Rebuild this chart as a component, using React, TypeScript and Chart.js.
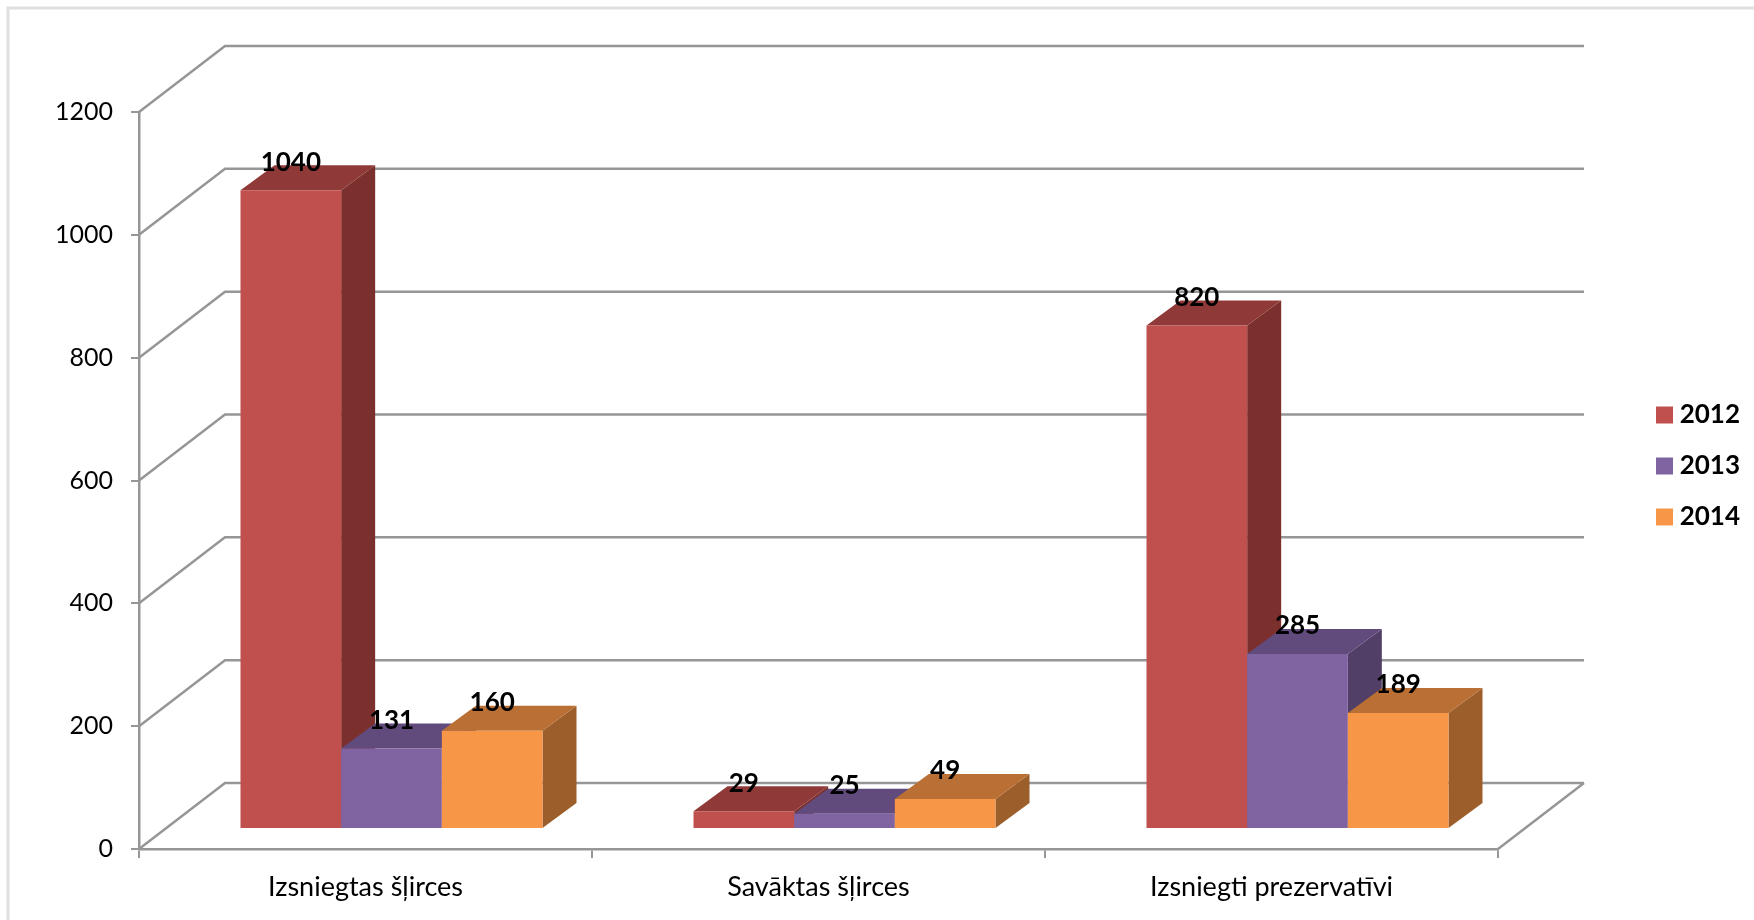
import React, { useEffect, useRef } from "react";
import { Chart, registerables } from "chart.js";

Chart.register(...registerables);

const categories = ["Izsniegtas šļirces", "Savāktas šļirces", "Izsniegti prezervatīvi"];
const values2012 = [1040, 29, 820];
const values2013 = [131, 25, 285];
const values2014 = [160, 49, 189];
const yearLabels = ["2012", "2013", "2014"];
const frontColors = ["#C0504D", "#8064A2", "#F79646"];
const topColors = ["#8F3A38", "#614A7C", "#BA7034"];
const sideColors = ["#7C302E", "#513F67", "#9C5E2A"];
const FONT = "Lato, Carlito, sans-serif";
const AXIS = "#969696";

// Perspective offsets
const WALL_DX = 86;
const WALL_DY = -66;
const BAR_DX = 34;
const BAR_DY = -25;
const BAR_SHIFT_X = 26;
const BAR_SHIFT_Y = -20;

const poly = (ctx: CanvasRenderingContext2D, pts: number[][], fill: string) => {
  ctx.beginPath();
  pts.forEach(([x, y], i) => (i ? ctx.lineTo(x, y) : ctx.moveTo(x, y)));
  ctx.closePath();
  ctx.fillStyle = fill;
  ctx.fill();
};

const chart3d = {
  id: "chart3d",
  afterLayout(chart: any) {
    const lg = chart.legend;
    const h = lg.height;
    lg.left = 1631;
    lg.right = 1740;
    lg.width = lg.right - lg.left;
    lg.top = 377;
    lg.bottom = lg.top + h;
    lg.adjustHitBoxes();
  },
  beforeDraw(chart: any) {
    const ctx = chart.ctx;
    ctx.save();
    ctx.strokeStyle = "#E0E0E0";
    ctx.lineWidth = 3;
    ctx.beginPath();
    ctx.moveTo(8, 920);
    ctx.lineTo(8, 8);
    ctx.lineTo(1754, 8);
    ctx.stroke();
    ctx.restore();
  },
  beforeDatasetsDraw(chart: any) {
    const { ctx, chartArea, scales } = chart;
    const { left, right, bottom } = chartArea;
    ctx.save();
    ctx.strokeStyle = AXIS;
    ctx.lineWidth = 2.5;
    ctx.beginPath();
    scales.y.ticks.forEach((t: any) => {
      const y = scales.y.getPixelForValue(t.value);
      ctx.moveTo(left, y);
      ctx.lineTo(left + WALL_DX, y + WALL_DY);
      ctx.lineTo(right + WALL_DX, y + WALL_DY);
    });
    ctx.moveTo(right + WALL_DX, bottom + WALL_DY);
    ctx.lineTo(right, bottom);
    ctx.stroke();
    ctx.restore();

    // Painter's order: left bar first, so each bar overlaps the side of the previous
    const metas = chart.getSortedVisibleDatasetMetas().slice().sort((a: any, b: any) => a.index - b.index);
    ctx.save();
    ctx.translate(BAR_SHIFT_X, BAR_SHIFT_Y);
    metas.forEach((meta: any) => {
      meta.data.forEach((bar: any) => {
        const p = bar.getProps(["x", "y", "base", "width"], true);
        const x0 = p.x - p.width / 2;
        const x1 = p.x + p.width / 2;
        poly(ctx, [[x1, p.y], [x1 + BAR_DX, p.y + BAR_DY], [x1 + BAR_DX, p.base + BAR_DY], [x1, p.base]], sideColors[meta.index]);
        poly(ctx, [[x0, p.y], [x0 + BAR_DX, p.y + BAR_DY], [x1 + BAR_DX, p.y + BAR_DY], [x1, p.y]], topColors[meta.index]);
      });
      meta.controller.draw();
    });
    ctx.fillStyle = "#000";
    ctx.font = `bold 26px ${FONT}`;
    ctx.textAlign = "center";
    ctx.textBaseline = "middle";
    metas.forEach((meta: any) => {
      meta.data.forEach((bar: any, i: number) => {
        const v = chart.data.datasets[meta.index].data[i];
        ctx.fillText(String(v), bar.x, bar.y - 28);
      });
    });
    ctx.restore();
    return false;
  },
};

export default function App() {
  const ref = useRef<HTMLCanvasElement>(null);
  useEffect(() => {
    const series = [values2012, values2013, values2014];
    const chart = new Chart(ref.current!, {
      type: "bar",
      data: {
        labels: categories,
        datasets: series.map((data, i) => ({
          label: yearLabels[i],
          data,
          backgroundColor: frontColors[i],
          borderWidth: 0,
          clip: false as any,
          categoryPercentage: 302 / 453,
          barPercentage: 1,
        })),
      },
      options: {
        responsive: false,
        animation: false,
        layout: { padding: { left: 39, right: 156, top: 112, bottom: 11 } },
        plugins: {
          tooltip: { enabled: false },
          title: { display: false },
          legend: {
            position: "right",
            align: "start",
            maxWidth: 100,
            labels: {
              boxWidth: 17,
              boxHeight: 17,
              padding: 25,
              color: "#000",
              textAlign: "right",
              font: { family: FONT, size: 26, weight: "bold" },
            },
          },
        },
        scales: {
          x: {
            afterFit: (s: any) => { s.height = 60; },
            grid: { drawOnChartArea: false, drawTicks: true, tickLength: 9, color: AXIS, lineWidth: 2 },
            border: { display: true, color: AXIS, width: 2.5 },
            ticks: { color: "#000", padding: 13, font: { family: FONT, size: 27 }, maxRotation: 0 },
          },
          y: {
            min: 0,
            max: 1200,
            afterFit: (s: any) => { s.width = 100; },
            grid: { drawOnChartArea: false, drawTicks: true, tickLength: 8, color: AXIS, lineWidth: 2 },
            border: { display: true, color: AXIS, width: 2.5 },
            ticks: {
              stepSize: 200,
              color: "#000",
              padding: 18,
              font: { family: FONT, size: 25 },
              callback: (v: any) => String(v),
            },
          },
        },
      } as any,
      plugins: [chart3d as any],
    });
    return () => chart.destroy();
  }, []);
  return <canvas ref={ref} width={1754} height={920} style={{ position: "absolute", left: 0, top: 0, display: "block" }} />;
}
